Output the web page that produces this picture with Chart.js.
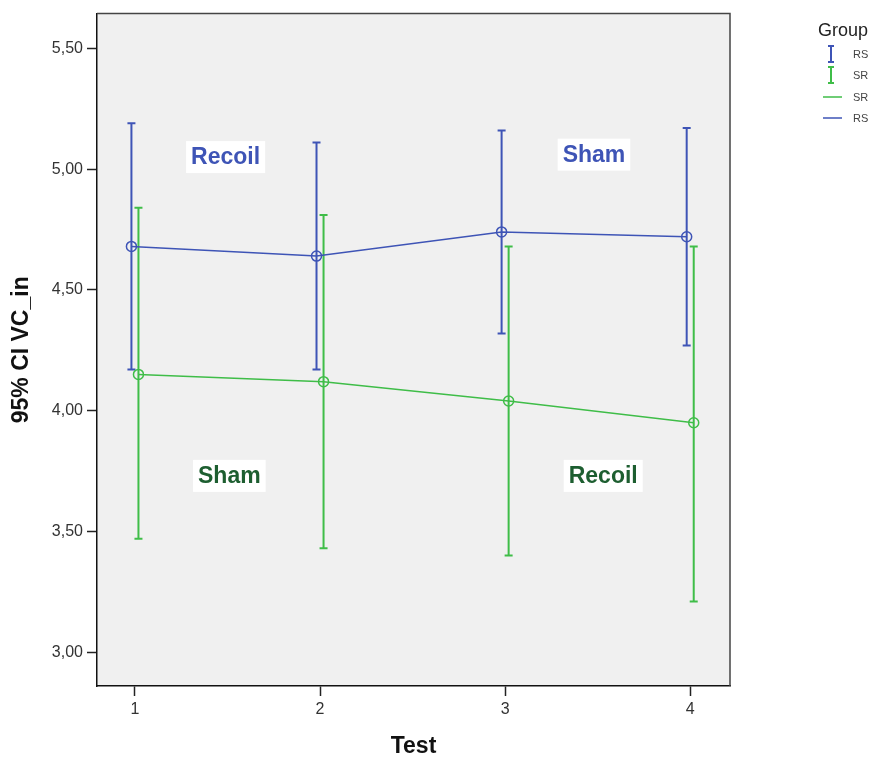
<!DOCTYPE html>
<html>
<head>
<meta charset="utf-8">
<script src="https://cdn.jsdelivr.net/npm/chart.js@4.4.1/dist/chart.umd.min.js"></script>
<style>
  html, body { margin: 0; padding: 0; background: #fff; }
  canvas { display: block; }
</style>
</head>
<body>
<canvas id="chart" width="876" height="760"></canvas>
<script>
// data (means and 95% CI bounds)
const tests = [1, 2, 3, 4];
const rsMean = [4.68, 4.64, 4.74, 4.72];
const rsLow = [4.17, 4.17, 4.32, 4.27];
const rsHigh = [5.19, 5.11, 5.16, 5.17];
const srMean = [4.15, 4.12, 4.04, 3.95];
const srLow = [3.47, 3.43, 3.40, 3.21];
const srHigh = [4.84, 4.81, 4.68, 4.68];
const yTicks = [3.0, 3.5, 4.0, 4.5, 5.0, 5.5];

// text labels inside the plot (positions in data units)
const noteText = ['Recoil', 'Sham', 'Sham', 'Recoil'];
const noteX = [1.49, 3.48, 1.51, 3.53];
const noteY = [5.05, 5.06, 3.73, 3.73];

const FONT = '"Liberation Sans", Arial, sans-serif';
const BLUE = '#3e54b6';
const GREEN = '#3fbd48';
const noteColor = [BLUE, BLUE, '#1d5e30', '#1d5e30'];
const dodge = 0.019;

function points(means, shift) {
    return tests.map((t, i) => ({ x: t + shift, y: means[i] }));
}

// plot background + frame
const frame = {
    id: 'frame',
    beforeDraw(chart) {
        const a = chart.chartArea, ctx = chart.ctx;
        ctx.save();
        ctx.fillStyle = '#f0f0f0';
        ctx.fillRect(a.left, a.top, a.right - a.left, a.bottom - a.top);
        ctx.restore();
    },
    afterDraw(chart) {
        const a = chart.chartArea, ctx = chart.ctx;
        ctx.save();
        ctx.strokeStyle = '#444';
        ctx.lineWidth = 1.5;
        ctx.beginPath();
        ctx.moveTo(a.left, a.top);
        ctx.lineTo(a.right, a.top);
        ctx.lineTo(a.right, a.bottom);
        ctx.stroke();
        ctx.restore();
    }
};

// vertical CI bars with caps
const errorBars = {
    id: 'errorBars',
    beforeDatasetsDraw(chart) {
        const ctx = chart.ctx, xs = chart.scales.x, ys = chart.scales.y;
        chart.data.datasets.forEach(ds => {
            ctx.save();
            ctx.strokeStyle = ds.borderColor;
            ctx.lineWidth = 2;
            ds.data.forEach((p, i) => {
                const x = xs.getPixelForValue(p.x);
                const top = ys.getPixelForValue(ds.high[i]);
                const bot = ys.getPixelForValue(ds.low[i]);
                ctx.beginPath();
                ctx.moveTo(x, top); ctx.lineTo(x, bot);
                ctx.moveTo(x - 4, top); ctx.lineTo(x + 4, top);
                ctx.moveTo(x - 4, bot); ctx.lineTo(x + 4, bot);
                ctx.stroke();
            });
            ctx.restore();
        });
    }
};

// "Recoil" / "Sham" boxes
const notes = {
    id: 'notes',
    afterDatasetsDraw(chart) {
        const ctx = chart.ctx, xs = chart.scales.x, ys = chart.scales.y;
        ctx.save();
        ctx.font = 'bold 23px ' + FONT;
        ctx.textAlign = 'center';
        ctx.textBaseline = 'middle';
        noteText.forEach((t, i) => {
            const x = xs.getPixelForValue(noteX[i]);
            const y = ys.getPixelForValue(noteY[i]);
            const w = ctx.measureText(t).width + 10;
            ctx.fillStyle = '#fff';
            ctx.fillRect(x - w / 2, y - 16, w, 32);
            ctx.fillStyle = noteColor[i];
            ctx.fillText(t, x, y + 1);
        });
        ctx.restore();
    }
};

// legend on the right
const groupLegend = {
    id: 'groupLegend',
    afterDraw(chart) {
        const ctx = chart.ctx;
        ctx.save();
        ctx.fillStyle = '#222';
        ctx.font = '18px ' + FONT;
        ctx.textAlign = 'center';
        ctx.textBaseline = 'middle';
        ctx.fillText('Group', 843, 31);

        const items = [
            { label: 'RS', color: BLUE, bar: true, y: 54 },
            { label: 'SR', color: GREEN, bar: true, y: 75 },
            { label: 'SR', color: GREEN, bar: false, y: 97 },
            { label: 'RS', color: BLUE, bar: false, y: 118 }
        ];
        ctx.font = '11px ' + FONT;
        ctx.textAlign = 'left';
        items.forEach(it => {
            ctx.strokeStyle = it.color;
            ctx.beginPath();
            if (it.bar) {
                ctx.lineWidth = 2;
                ctx.moveTo(831, it.y - 8); ctx.lineTo(831, it.y + 8);
                ctx.moveTo(828, it.y - 8); ctx.lineTo(834, it.y - 8);
                ctx.moveTo(828, it.y + 8); ctx.lineTo(834, it.y + 8);
            } else {
                ctx.lineWidth = 1.5;
                ctx.moveTo(823, it.y); ctx.lineTo(842, it.y);
            }
            ctx.stroke();
            ctx.fillStyle = '#444';
            ctx.fillText(it.label, 853, it.y + 1);
        });
        ctx.restore();
    }
};

new Chart(document.getElementById('chart'), {
    type: 'line',
    data: {
        datasets: [
            {
                label: 'RS', data: points(rsMean, -dodge), low: rsLow, high: rsHigh,
                borderColor: BLUE, borderWidth: 1.5, pointBorderColor: BLUE,
                pointBackgroundColor: 'rgba(0,0,0,0)', pointRadius: 5, pointBorderWidth: 1.5
            },
            {
                label: 'SR', data: points(srMean, dodge), low: srLow, high: srHigh,
                borderColor: GREEN, borderWidth: 1.5, pointBorderColor: GREEN,
                pointBackgroundColor: 'rgba(0,0,0,0)', pointRadius: 5, pointBorderWidth: 1.5
            }
        ]
    },
    options: {
        responsive: false,
        animation: false,
        layout: { padding: { top: 11, right: 146, left: 0, bottom: 0 } },
        plugins: { legend: { display: false }, tooltip: { enabled: false } },
        scales: {
            x: {
                type: 'linear', min: 0.795, max: 4.215,
                afterFit: a => { a.height = 74; },
                afterBuildTicks: a => { a.ticks = tests.map(v => ({ value: v })); },
                ticks: { font: { family: FONT, size: 16 }, color: '#333', padding: 4, callback: v => String(v) },
                grid: { drawOnChartArea: false, tickLength: 10, color: '#222', tickWidth: 1.5 },
                border: { color: '#111', width: 1.5 },
                title: { display: true, text: 'Test', color: '#111', font: { family: FONT, size: 23, weight: 'bold' }, padding: { top: 0, bottom: 0 } }
            },
            y: {
                min: 2.86, max: 5.644,
                afterFit: a => { a.width = 97; },
                afterBuildTicks: a => { a.ticks = yTicks.map(v => ({ value: v })); },
                ticks: { font: { family: FONT, size: 16 }, color: '#333', padding: 4, callback: v => v.toFixed(2).replace('.', ',') },
                grid: { drawOnChartArea: false, tickLength: 10, color: '#222', tickWidth: 1.5 },
                border: { color: '#111', width: 1.5 },
                title: { display: true, text: '95% CI VC_in', color: '#111', font: { family: FONT, size: 23, weight: 'bold' }, padding: { top: 8, bottom: 0 } }
            }
        }
    },
    plugins: [frame, errorBars, notes, groupLegend]
});
</script>
</body>
</html>
